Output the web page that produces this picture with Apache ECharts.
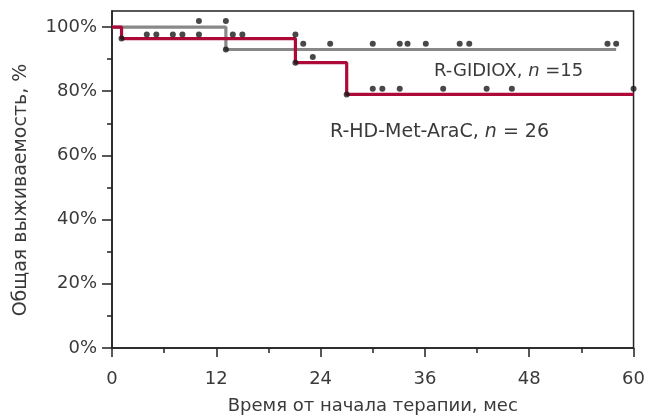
<!DOCTYPE html>
<html>
<head>
<meta charset="utf-8">
<script src="https://cdn.jsdelivr.net/npm/echarts@6/dist/echarts.min.js"></script>
<style>html,body{margin:0;padding:0;background:#fff;}#c{width:648px;height:420px;}</style>
</head>
<body>
<div id="c"></div>
<script>
// Kaplan–Meier step points: [month, survival %]
const gidioxCurve = [[0, 100], [13.1, 93.0], [58, 93.0]];
const araCCurve = [[0, 100], [1.1, 96.4], [21.1, 88.9], [27.0, 79.0], [60, 79.0]];
// Censor / event marks
const gidioxDots = [[10.0, 101.9], [13.1, 101.9], [13.1, 93.0], [22.0, 94.8], [25.1, 94.8], [30.0, 94.8],
  [33.1, 94.8], [34.0, 94.8], [36.1, 94.8], [40.0, 94.8], [41.1, 94.8], [57.0, 94.8], [58.0, 94.8]];
const araCDots = [[1.1, 96.4], [4.0, 97.7], [5.1, 97.7], [7.0, 97.7], [8.1, 97.7], [10.0, 97.7], [13.9, 97.7],
  [15.0, 97.7], [21.1, 97.7], [21.1, 88.9], [23.1, 90.7], [27.0, 79.0], [30.0, 80.8], [31.1, 80.8],
  [33.1, 80.8], [38.1, 80.8], [43.1, 80.8], [46.0, 80.8], [60.0, 80.8]];
const yMajorTicks = [0, 20, 40, 60, 80, 100];
const yMinorTicks = [10, 30, 50, 70, 90];
const xTitle = 'Время от начала терапии, мес';
const yTitle = 'Общая выживаемость, %';

const FONT = '"DejaVu Sans", "Open Sans", sans-serif';
const TXT = '#3a3a3a';
const AX = '#222222';

const chart = echarts.init(document.getElementById('c'), null, {renderer: 'canvas'});
chart.setOption({
  animation: false,
  backgroundColor: '#ffffff',
  grid: {left: 112, right: 14, top: 11, bottom: 69, show: true, borderColor: AX, borderWidth: 1.5, backgroundColor: 'transparent'},
  xAxis: {
    type: 'value', min: 0, max: 60, interval: 12,
    name: xTitle, nameLocation: 'middle', nameGap: 49,
    nameTextStyle: {fontFamily: FONT, fontSize: 18, color: TXT},
    axisLine: {show: true, lineStyle: {color: AX, width: 1.5}},
    axisTick: {show: true, length: 9, lineStyle: {color: AX, width: 1.5}},
    minorTick: {show: true, splitNumber: 2, length: 5, lineStyle: {color: AX, width: 1.5}},
    splitLine: {show: false},
    axisLabel: {fontFamily: FONT, fontSize: 18, color: TXT, margin: 22}
  },
  yAxis: [{
    type: 'value', min: 0, max: 105,
    axisLine: {show: true, lineStyle: {color: AX, width: 1.5}},
    axisTick: {show: true, length: 10, customValues: yMajorTicks, lineStyle: {color: AX, width: 1.5}},
    splitLine: {show: false},
    axisLabel: {customValues: yMajorTicks, formatter: '{value}%', fontFamily: FONT, fontSize: 18, color: TXT, margin: 15}
  }, {
    type: 'value', min: 0, max: 105, position: 'left', offset: 0,
    axisLine: {show: false},
    axisTick: {show: true, length: 5, customValues: yMinorTicks, lineStyle: {color: AX, width: 1.5}},
    splitLine: {show: false},
    axisLabel: {show: false}
  }],
  graphic: [
    {type: 'text', left: 434, top: 62, style: {
      text: 'R-GIDIOX, {i|n} =15', fontFamily: FONT, fontSize: 18, fill: TXT,
      rich: {i: {fontFamily: FONT, fontSize: 18, fontStyle: 'italic', fill: TXT}}}},
    {type: 'text', left: 330, top: 123, style: {
      text: 'R-HD-Met-AraC, {i|n} = 26', fontFamily: FONT, fontSize: 19, fill: TXT,
      rich: {i: {fontFamily: FONT, fontSize: 19, fontStyle: 'italic', fill: TXT}}}},
    {type: 'text', x: 21, y: 190, rotation: Math.PI / 2, style: {
      text: yTitle, fontFamily: FONT, fontSize: 19, fill: TXT, align: 'center', verticalAlign: 'middle'}}
  ],
  series: [
    {type: 'line', name: 'R-GIDIOX', data: gidioxCurve, step: 'end', showSymbol: false, z: 2,
      lineStyle: {color: '#888888', width: 3.2}},
    {type: 'line', name: 'R-HD-Met-AraC', data: araCCurve, step: 'end', showSymbol: false, z: 3,
      lineStyle: {color: '#ad0a3a', width: 3.2}},
    {type: 'scatter', data: gidioxDots, symbolSize: 6, z: 5, itemStyle: {color: '#1a1a1a'}},
    {type: 'scatter', data: araCDots, symbolSize: 6, z: 5, itemStyle: {color: '#1a1a1a'}}
  ]
});
</script>
</body>
</html>
